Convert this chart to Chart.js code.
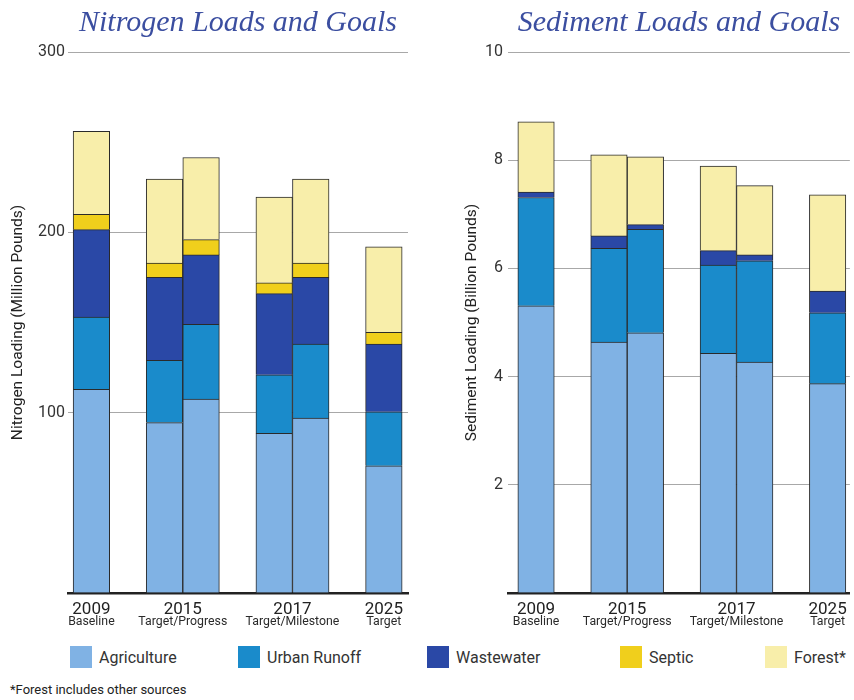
<!DOCTYPE html>
<html>
<head>
<meta charset="utf-8">
<title>Nitrogen and Sediment Loads and Goals</title>
<script src="https://cdn.jsdelivr.net/npm/chart.js@4/dist/chart.umd.min.js"></script>
<style>
  html, body { margin: 0; padding: 0; background: #fff; }
  body { width: 854px; height: 700px; position: relative; overflow: hidden; font-family: Roboto, "Noto Sans", sans-serif; }
  .panel { position: absolute; top: 0; height: 640px; }
  #nitrogenPanel { left: 0; width: 430px; }
  #sedimentPanel { left: 430px; width: 424px; }
  #legend { position: absolute; left: 70px; top: 645px; display: flex; }
  #legend .item { display: flex; align-items: center; font-size: 16px; color: #333; height: 24px; }
  #legend .swatch { width: 22px; height: 22px; margin-right: 7px; flex: none; }
  #note { position: absolute; left: 10px; top: 682px; font-size: 13px; color: #222; }
</style>
</head>
<body>
<div class="panel" id="nitrogenPanel"><canvas id="nitrogenChart"></canvas></div>
<div class="panel" id="sedimentPanel"><canvas id="sedimentChart"></canvas></div>
<div id="legend"></div>
<div id="note">*Forest includes other sources</div>

<script>
// Year groups along the bottom
const years = ['2009', '2015', '2017', '2025'];
const yearNotes = ['Baseline', 'Target/Progress', 'Target/Milestone', 'Target'];
const barsPerYear = [1, 2, 2, 1];

// Source sectors, bottom of each stack first
const sectors = ['Agriculture', 'Urban Runoff', 'Wastewater', 'Septic', 'Forest*'];
const sectorColors = ['#80b2e4', '#1a8bcb', '#2a48a6', '#f0cf1c', '#f8eeaa'];

// Nitrogen loads, million pounds (one value per bar)
const nitrogenAgriculture = [113, 94.5, 107.5, 88.5, 97, 70.5];
const nitrogenUrban       = [40, 34.5, 41.5, 32.5, 41, 30];
const nitrogenWastewater  = [48.5, 46, 38.5, 45, 37, 37.5];
const nitrogenSeptic      = [8.5, 8, 8.5, 6, 8, 6.5];
const nitrogenForest      = [46, 46.5, 45.5, 47.5, 46.5, 47.5];

// Sediment loads, billion pounds (one value per bar)
const sedimentAgriculture = [5.31, 4.64, 4.81, 4.43, 4.27, 3.87];
const sedimentUrban       = [2.0, 1.73, 1.91, 1.63, 1.87, 1.31];
const sedimentWastewater  = [0.1, 0.23, 0.09, 0.27, 0.11, 0.4];
const sedimentSeptic      = [0, 0, 0, 0, 0, 0];
const sedimentForest      = [1.3, 1.5, 1.25, 1.56, 1.28, 1.78];

// Value axis ticks
const nitrogenTicks = [0, 100, 200, 300];
const sedimentTicks = [0, 2, 4, 6, 8, 10];

// Bars of one year sit side by side; one empty slot separates the years
const barSlots = [];
const yearCenters = [];
let slot = 0;
barsPerYear.forEach(n => {
  const first = slot;
  for (let k = 0; k < n; k++) barSlots.push(slot++);
  yearCenters.push((first + slot - 1) / 2);
  slot++;
});

Chart.defaults.font.family = 'Roboto, "Noto Sans", sans-serif';
Chart.defaults.color = '#333';

function buildDatasets(series) {
  return series.map((values, i) => ({
    label: sectors[i],
    data: values.map((v, j) => ({ x: barSlots[j], y: v })),
    backgroundColor: sectorColors[i],
    borderColor: '#2a2a2a',
    borderWidth: 1,
    barPercentage: 1,
    categoryPercentage: 1
  }));
}

function placeYearTicks(axis) {
  axis.ticks = yearCenters.map(v => ({ value: v }));
}

function makeChart(canvasId, cfg) {
  return new Chart(document.getElementById(canvasId), {
    type: 'bar',
    data: { datasets: buildDatasets(cfg.series) },
    options: {
      responsive: true,
      maintainAspectRatio: false,
      animation: false,
      layout: { padding: { left: 0, right: cfg.padRight, top: 0, bottom: 0 } },
      plugins: {
        legend: { display: false },
        tooltip: { enabled: false },
        title: {
          display: true,
          text: cfg.title,
          fullSize: false,
          color: '#3b4ea0',
          font: { family: '"Liberation Serif", serif', style: 'italic', size: 30, weight: 'normal' },
          padding: { top: 5, bottom: 11 }
        }
      },
      scales: {
        x: {
          type: 'linear',
          stacked: true,
          offset: false,
          min: cfg.xMin,
          max: cfg.xMax,
          afterBuildTicks: placeYearTicks,
          afterFit: a => { a.height = 22; },
          grid: { display: false, drawTicks: false, offset: false },
          border: { display: true, color: '#222', width: 2.5 },
          ticks: {
            autoSkip: false, maxRotation: 0, padding: 7,
            color: '#222', font: { size: 17 },
            callback: (v, i) => years[i]
          }
        },
        x2: {
          type: 'linear',
          position: 'bottom',
          offset: false,
          min: cfg.xMin,
          max: cfg.xMax,
          afterBuildTicks: placeYearTicks,
          afterFit: a => { a.height = 25; },
          grid: { display: false, drawTicks: false, offset: false },
          border: { display: false },
          ticks: {
            autoSkip: false, maxRotation: 0, padding: 0,
            color: '#2a2a2a', font: { size: 12.3 },
            callback: (v, i) => yearNotes[i]
          }
        },
        y: {
          stacked: true,
          min: cfg.ticks[0],
          max: cfg.ticks[cfg.ticks.length - 1],
          afterBuildTicks: a => { a.ticks = cfg.ticks.map(v => ({ value: v })); },
          afterFit: a => { a.width = cfg.axisWidth; },
          grid: { color: '#a8a8a8', lineWidth: 1, drawTicks: false },
          border: { display: false },
          ticks: {
            padding: cfg.tickPad,
            color: '#333',
            font: { size: 16 },
            callback: v => (v === 0 ? '' : v)
          },
          title: {
            display: true,
            text: cfg.axisTitle,
            color: '#222',
            font: { size: 15.5 },
            padding: { top: cfg.titlePad, bottom: 0 }
          }
        }
      }
    }
  });
}

const nitrogenChart = makeChart('nitrogenChart', {
  title: 'Nitrogen Loads and Goals',
  axisTitle: 'Nitrogen Loading (Million Pounds)',
  series: [nitrogenAgriculture, nitrogenUrban, nitrogenWastewater, nitrogenSeptic, nitrogenForest],
  ticks: nitrogenTicks,
  xMin: -0.64, xMax: 8.66,
  axisWidth: 68, tickPad: 3, titlePad: 9, padRight: 22
});

makeChart('sedimentChart', {
  title: 'Sediment Loads and Goals',
  axisTitle: 'Sediment Loading (Billion Pounds)',
  series: [sedimentAgriculture, sedimentUrban, sedimentWastewater, sedimentSeptic, sedimentForest],
  ticks: sedimentTicks,
  xMin: -0.77, xMax: 8.61,
  axisWidth: 78, tickPad: 5, titlePad: 33, padRight: 0
});

// Shared legend under both panels, built from the chart's datasets
const legendWidths = [168, 189, 193, 145, 90];
const legendBox = document.getElementById('legend');
nitrogenChart.data.datasets.forEach((ds, i) => {
  const item = document.createElement('div');
  item.className = 'item';
  item.style.width = legendWidths[i] + 'px';
  const sw = document.createElement('span');
  sw.className = 'swatch';
  sw.style.background = ds.backgroundColor;
  const label = document.createElement('span');
  label.textContent = ds.label;
  item.appendChild(sw);
  item.appendChild(label);
  legendBox.appendChild(item);
});
</script>
</body>
</html>
